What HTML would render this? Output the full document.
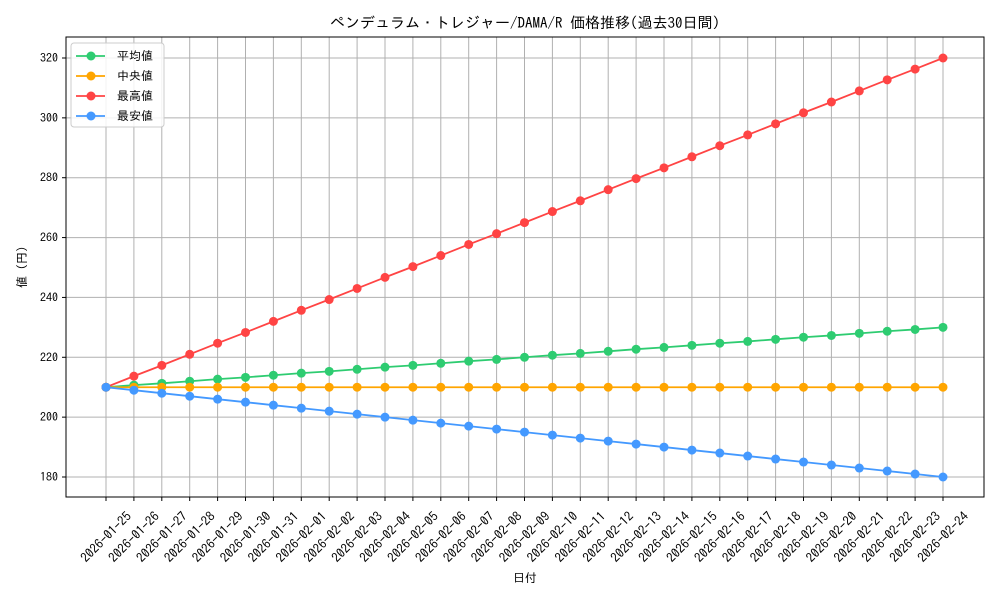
<!DOCTYPE html>
<html><head><meta charset="utf-8">
<style>
html,body{margin:0;padding:0;background:#fff;}
svg{display:block;font-family:"IPAGothic","Liberation Sans","Noto Sans CJK JP",sans-serif;}
</style></head>
<body>
<svg id="chart" width="1000" height="600" viewBox="0 0 1000 600">
<rect width="1000" height="600" fill="#fff"/>
<text x="525" y="28" font-size="15" text-anchor="middle">ペンデュラム・トレジャー/DAMA/R 価格推移(過去30日間)</text>
<g id="grid"></g>
<g id="series"></g>
<rect x="66" y="37" width="918" height="460" fill="none" stroke="#000" stroke-width="1"/>
<g id="axes"></g>
<text x="525" y="582" font-size="12" text-anchor="middle">日付</text>
<text transform="translate(26,267) rotate(-90)" font-size="12" text-anchor="middle">値 (円)</text>
<g id="legend"></g>
</svg>
<script>
const dates = ["2026-01-25","2026-01-26","2026-01-27","2026-01-28","2026-01-29","2026-01-30","2026-01-31","2026-02-01","2026-02-02","2026-02-03","2026-02-04","2026-02-05","2026-02-06","2026-02-07","2026-02-08","2026-02-09","2026-02-10","2026-02-11","2026-02-12","2026-02-13","2026-02-14","2026-02-15","2026-02-16","2026-02-17","2026-02-18","2026-02-19","2026-02-20","2026-02-21","2026-02-22","2026-02-23","2026-02-24"];
const meanValues = [210,210.7,211.3,212,212.7,213.3,214,214.7,215.3,216,216.7,217.3,218,218.7,219.3,220,220.7,221.3,222,222.7,223.3,224,224.7,225.3,226,226.7,227.3,228,228.7,229.3,230];
const medianValues = [210,210,210,210,210,210,210,210,210,210,210,210,210,210,210,210,210,210,210,210,210,210,210,210,210,210,210,210,210,210,210];
const maxValues = [210,213.7,217.3,221,224.7,228.3,232,235.7,239.3,243,246.7,250.3,254,257.7,261.3,265,268.7,272.3,276,279.7,283.3,287,290.7,294.3,298,301.7,305.3,309,312.7,316.3,320];
const minValues = [210,209,208,207,206,205,204,203,202,201,200,199,198,197,196,195,194,193,192,191,190,189,188,187,186,185,184,183,182,181,180];
const yTicks = [180,200,220,240,260,280,300,320];
const seriesNames = ["平均値","中央値","最高値","最安値"];
const seriesColors = ["#2ecc71","#ffa500","#ff4444","#4499ff"];

const NS="http://www.w3.org/2000/svg";
function mk(tag,attrs,parent){const e=document.createElementNS(NS,tag);for(const k in attrs)e.setAttribute(k,attrs[k]);parent.appendChild(e);return e;}
const X0=106, X1=943;
function xs(i){return X0+(X1-X0)*i/(dates.length-1);}
function ys(v){return 477-(v-180)*(477-58)/140;}

const grid=document.getElementById('grid'), axes=document.getElementById('axes');
dates.forEach((d,i)=>{
  const x=xs(i);
  const gl=mk('line',{x1:x,x2:x,y1:37,y2:497,stroke:'#b0b0b0','stroke-width':1},grid);
  
  
  const tk=mk('line',{x1:x,x2:x,y1:497,y2:501,stroke:'#000'},axes);
  
  
  const t=mk('text',{'font-size':13,'text-anchor':'middle','dominant-baseline':'central',transform:`translate(${x},537) rotate(-45)`},axes);
  t.textContent=d;
  
  
});
yTicks.forEach(v=>{
  const y=ys(v);
  const gl=mk('line',{x1:66,x2:984,y1:y,y2:y,stroke:'#b0b0b0','stroke-width':1},grid);
  
  
  const tk=mk('line',{x1:62,x2:66,y1:y,y2:y,stroke:'#000'},axes);
  
  
  const t=mk('text',{x:58,y:y+4,'font-size':12,'text-anchor':'end'},axes);
  t.textContent=v;
  
  
});

const allSeries=[meanValues,medianValues,maxValues,minValues];
const sg=document.getElementById('series');
allSeries.forEach((vals,s)=>{
  const g=mk('g',{},sg);
  
  
  const pts=vals.map((v,i)=>xs(i)+','+ys(v)).join(' ');
  const pl=mk('polyline',{points:pts,fill:'none',stroke:seriesColors[s],'stroke-width':1.8},g);
  
  
  vals.forEach((v,i)=>{
    const c=mk('circle',{cx:xs(i),cy:ys(v),r:4.5,fill:seriesColors[s]},g);
    
    
  });
});

const lg=document.getElementById('legend');
const box=mk('rect',{x:71,y:43,width:93,height:84,rx:3,fill:'#fff','fill-opacity':0.85,stroke:'#ccc'},lg);


seriesNames.forEach((n,i)=>{
  const y=56+i*20;
  const g=mk('g',{},lg);
  
  
  mk('line',{x1:76,x2:105,y1:y,y2:y,stroke:seriesColors[i],'stroke-width':1.8},g);
  mk('circle',{cx:91,cy:y,r:4.5,fill:seriesColors[i]},g);
  const t=mk('text',{x:117,y:y+4,'font-size':12},g);
  t.textContent=n;
});
</script>
</body></html>
